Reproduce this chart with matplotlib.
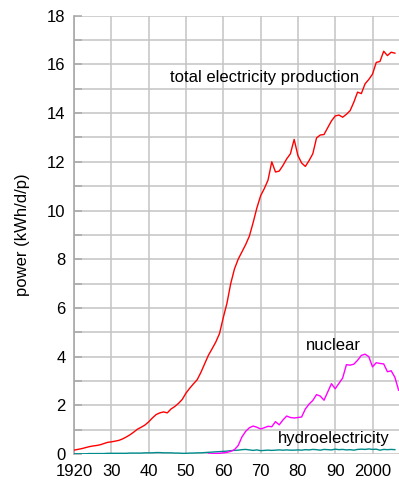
import numpy as np
import matplotlib
matplotlib.use("Agg")
import matplotlib.pyplot as plt
from matplotlib.ticker import MultipleLocator, FuncFormatter

plt.rcParams['font.family'] = ['Liberation Sans', 'DejaVu Sans']

# Annual per-capita electricity, kWh/d/p
total_years = list(range(1920, 2007))
total = [0.16, 0.19, 0.22, 0.26, 0.30, 0.33, 0.35, 0.38, 0.43, 0.48,
         0.50, 0.53, 0.56, 0.62, 0.70, 0.79, 0.90, 1.02, 1.10, 1.19,
         1.32, 1.48, 1.62, 1.69, 1.73, 1.69, 1.85, 1.95, 2.08, 2.24,
         2.50, 2.70, 2.88, 3.05, 3.35, 3.70, 4.05, 4.32, 4.60, 4.95,
         5.60, 6.20, 7.00, 7.60, 8.00, 8.30, 8.60, 8.95, 9.50, 10.10,
         10.60, 10.90, 11.25, 12.00, 11.58, 11.62, 11.85, 12.12, 12.33, 12.92,
         12.26, 11.95, 11.81, 12.05, 12.33, 12.98, 13.10, 13.12, 13.40, 13.68,
         13.88, 13.92, 13.83, 13.95, 14.10, 14.45, 14.86, 14.80, 15.20, 15.38,
         15.60, 16.08, 16.12, 16.54, 16.36, 16.50, 16.46]

nuclear_years = list(range(1956, 2008))
nuclear = [0.00, 0.01, 0.02, 0.03, 0.05, 0.07, 0.11, 0.18, 0.35, 0.70,
           0.93, 1.08, 1.15, 1.10, 1.03, 1.08, 1.14, 1.12, 1.33, 1.20,
           1.40, 1.56, 1.50, 1.48, 1.50, 1.52, 1.85, 2.05, 2.20, 2.44,
           2.38, 2.21, 2.55, 2.89, 2.68, 2.90, 3.12, 3.67, 3.65, 3.69,
           3.85, 4.05, 4.10, 4.00, 3.58, 3.75, 3.72, 3.70, 3.38, 3.42,
           3.15, 2.62]

hydro_years = list(range(1920, 2007))
hydro = [0.01, 0.01, 0.01, 0.01, 0.02, 0.02, 0.02, 0.02, 0.02, 0.03,
         0.03, 0.03, 0.03, 0.03, 0.03, 0.04, 0.04, 0.04, 0.04, 0.05,
         0.05, 0.05, 0.06, 0.06, 0.05, 0.05, 0.05, 0.04, 0.04, 0.03,
         0.03, 0.04, 0.04, 0.05, 0.05, 0.06, 0.07, 0.08, 0.09, 0.10,
         0.11, 0.12, 0.14, 0.15, 0.16, 0.18, 0.19, 0.17, 0.15, 0.17,
         0.14, 0.15, 0.16, 0.15, 0.16, 0.17, 0.16, 0.17, 0.16, 0.16,
         0.17, 0.16, 0.18, 0.17, 0.19, 0.18, 0.16, 0.19, 0.18, 0.17,
         0.20, 0.18, 0.19, 0.17, 0.18, 0.16, 0.19, 0.20, 0.19, 0.21,
         0.19, 0.20, 0.16, 0.19, 0.18, 0.19, 0.18]

x_ticks = [1920, 1930, 1940, 1950, 1960, 1970, 1980, 1990, 2000]
x_tick_labels = ['1920', '30', '40', '50', '60', '70', '80', '90', '2000']

fig = plt.figure(figsize=(3.99, 4.82), dpi=100)
ax = fig.add_axes([0.1855, 0.058, 0.8145, 0.9095])

grid_col = '#c4c4c4'
ax.set_xlim(1920, 2007.1)
ax.set_ylim(0, 18)
ax.set_xticks(x_ticks)
ax.set_xticklabels(x_tick_labels)
ax.yaxis.set_major_locator(MultipleLocator(1))
ax.yaxis.set_major_formatter(
    FuncFormatter(lambda v, p: f"{int(round(v))}" if int(round(v)) % 2 == 0 else ""))
ax.grid(True, color=grid_col, linewidth=1.1, zorder=0)
ax.set_axisbelow(True)

for side in ('top', 'right', 'bottom'):
    ax.spines[side].set_visible(False)
ax.spines['left'].set_color('#a8a8a8')
ax.spines['left'].set_linewidth(1.2)

ax.tick_params(axis='y', direction='in', length=6, width=1.1, color='#a8a8a8',
               labelsize=12, pad=6)
ax.tick_params(axis='x', length=0, labelsize=12, pad=7)

ax.plot(hydro_years, hydro, color='#008b8b', linewidth=1.0, zorder=3)
ax.plot(nuclear_years, nuclear, color='#ff00ff', linewidth=1.0, zorder=3)
ax.plot(total_years, total, color='#ff0000', linewidth=1.0, zorder=4)

ax.text(1945.7, 15.45, 'total electricity production', fontsize=12,
        ha='left', va='center')
ax.text(1982.1, 4.45, 'nuclear', fontsize=12, ha='left', va='center')
ax.text(1974.6, 0.63, 'hydroelectricity', fontsize=12, ha='left', va='center')

ax.set_ylabel('power (kWh/d/p)', fontsize=12, labelpad=12)

fig.savefig('out.png', dpi=100)
